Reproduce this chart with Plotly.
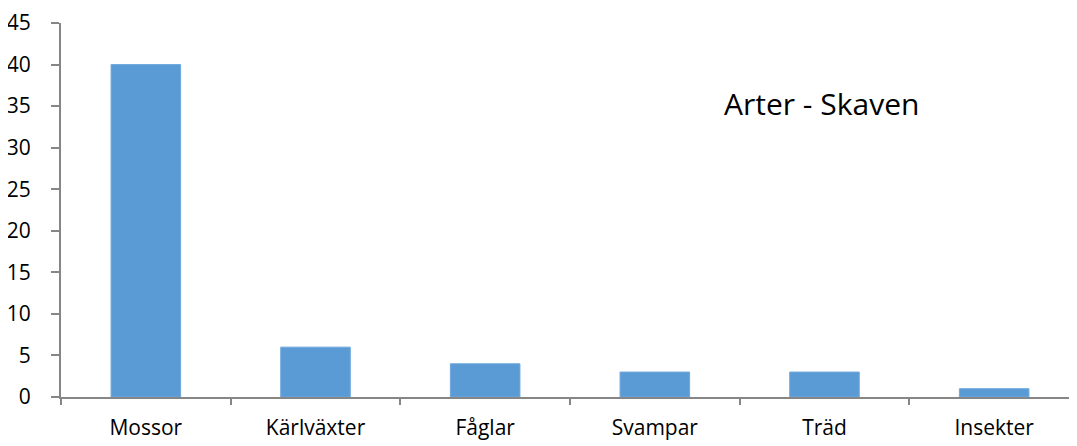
import plotly.graph_objects as go

categories = ["Mossor", "Kärlväxter", "Fåglar", "Svampar", "Träd", "Insekter"]
values = [40, 6, 4, 3, 3, 1]
y_ticks = [0, 5, 10, 15, 20, 25, 30, 35, 40, 45]
title_text = "Arter - Skaven"

axis_color = "#868686"
font_family = "Open Sans, Noto Sans, sans-serif"

fig = go.Figure(
    go.Bar(
        x=categories,
        y=values,
        marker=dict(color="#5B9BD5", line=dict(color="#6FA8DC", width=1)),
        width=0.41,
    )
)

fig.update_layout(
    width=1077,
    height=446,
    margin=dict(l=53, r=6, t=15, b=57, autoexpand=False),
    paper_bgcolor="white",
    plot_bgcolor="white",
    showlegend=False,
    font=dict(family=font_family, size=21, color="black"),
    annotations=[
        dict(
            text=title_text,
            x=0.747,
            y=0.785,
            xref="paper",
            yref="paper",
            showarrow=False,
            font=dict(family=font_family, size=30, color="black"),
            xanchor="center",
            yanchor="middle",
        )
    ],
)

fig.update_xaxes(
    type="category",
    automargin=False,
    showline=True,
    linecolor=axis_color,
    linewidth=2,
    ticks="outside",
    tickson="boundaries",
    ticklen=6,
    tickcolor=axis_color,
    tickwidth=1.5,
    showgrid=False,
    range=[-0.5, 5.5],
    ticklabelstandoff=11,
)

fig.update_yaxes(
    automargin=False,
    range=[0, 45],
    tickvals=y_ticks,
    showline=True,
    linecolor=axis_color,
    linewidth=2,
    ticks="outside",
    ticklen=8,
    tickcolor=axis_color,
    tickwidth=1.5,
    showgrid=False,
    zeroline=False,
    ticklabelstandoff=16,
    ticklabeloverflow="allow",
)

fig.write_html("out.html")
